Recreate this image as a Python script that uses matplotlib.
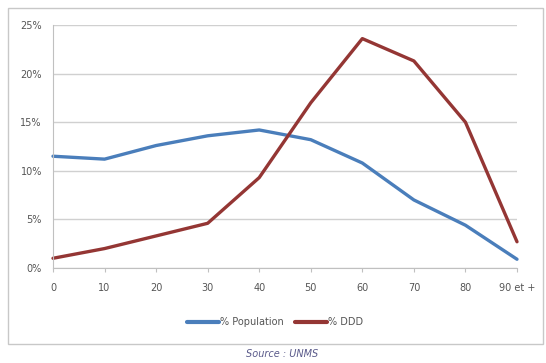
import matplotlib
matplotlib.use("Agg")
import matplotlib.pyplot as plt
from matplotlib.patches import Rectangle
from matplotlib.ticker import PercentFormatter

ages = ["0", "10", "20", "30", "40", "50", "60", "70", "80", "90 et +"]
population = [11.5, 11.2, 12.6, 13.6, 14.2, 13.2, 10.8, 7.0, 4.4, 0.9]
ddd = [1.0, 2.0, 3.3, 4.6, 9.3, 17.0, 23.6, 21.3, 15.0, 2.7]

fig = plt.figure(figsize=(5.46, 3.63), dpi=100)
fig.patch.set_facecolor("white")
fig.patches.append(Rectangle((8/546, 1-344/363), (543-8)/546, (344-8)/363,
                             transform=fig.transFigure, fill=False,
                             edgecolor="#c8c8c8", linewidth=1.0))

ax = fig.add_axes([53/546, 1-268/363, (517-53)/546, (268-25)/363])
x = list(range(len(ages)))
ax.plot(x, population, color="#4a7ebb", linewidth=2.4, label="% Population",
        solid_joinstyle="round", solid_capstyle="round", clip_on=False)
ax.plot(x, ddd, color="#943634", linewidth=2.4, label="% DDD",
        solid_joinstyle="round", solid_capstyle="round", clip_on=False)

ax.set_xlim(0, 9)
ax.set_ylim(0, 25)
ax.set_yticks([0, 5, 10, 15, 20, 25])
ax.yaxis.set_major_formatter(PercentFormatter(decimals=0))
ax.set_xticks(x)
ax.set_xticklabels(ages)
ax.grid(axis="y", color="#d0d0d0", linewidth=1)
ax.set_axisbelow(True)
for s in ["top", "right"]:
    ax.spines[s].set_visible(False)
for s in ["left", "bottom"]:
    ax.spines[s].set_color("#c0c0c0")
ax.tick_params(axis="both", colors="#c0c0c0", labelcolor="#555555", labelsize=7, length=3)
ax.tick_params(axis="y", length=0, pad=8)
ax.tick_params(axis="x", pad=8)

leg = fig.legend(loc="center", bbox_to_anchor=(275/546, 1-322/363), ncol=2, frameon=False,
                 fontsize=7, handlelength=3.3, columnspacing=1.2, handletextpad=0.1)
for t in leg.get_texts():
    t.set_color("#555555")
for h in leg.get_lines():
    h.set_linewidth(3)

fig.text(282/546, 1-354/363, "Source : UNMS", ha="center", va="center", fontsize=7,
         style="italic", color="#5a5a8a")

fig.savefig("out.png", dpi=100)
